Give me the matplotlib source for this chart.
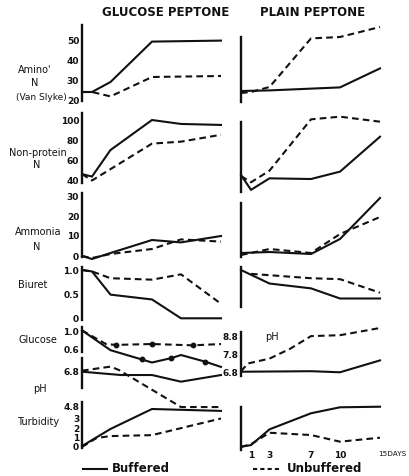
import numpy as np
import matplotlib
matplotlib.use("Agg")
import matplotlib.pyplot as plt
from matplotlib.lines import Line2D

# ---------------- data ----------------
TICK_DAYS = [1, 3, 7, 10, 15]
TICK_LABELS = ["1", "3", "7", "10", "15DAYS"]

# Glucose peptone
glu_amino_buf_d = [0, 1, 3, 7, 15]
glu_amino_buf = [24.5, 24.5, 29.5, 49.7, 50.2]
glu_amino_unb_d = [0, 1, 3, 7, 15]
glu_amino_unb = [24.5, 24.5, 22.3, 32.0, 32.5]

glu_npn_buf_d = [0, 1, 3, 7, 10, 15]
glu_npn_buf = [46, 43.5, 70.5, 101, 97, 96]
glu_npn_unb_d = [0, 1, 7, 10, 15]
glu_npn_unb = [46, 39.5, 77, 79, 86]

glu_nh3_buf_d = [0, 1, 3, 7, 10, 15]
glu_nh3_buf = [0, -1.5, 1.5, 8.0, 6.8, 10.0]
glu_nh3_unb_d = [0, 1, 3, 7, 10, 15]
glu_nh3_unb = [0, -1.0, 1.0, 3.5, 8.3, 7.2]

glu_biuret_buf_d = [0, 1, 3, 7, 10, 15]
glu_biuret_buf = [1.0, 0.97, 0.49, 0.39, 0.0, 0.0]
glu_biuret_unb_d = [0, 1, 3, 7, 10, 15]
glu_biuret_unb = [1.0, 0.97, 0.83, 0.80, 0.91, 0.30]

glu_glucose_buf_d = [0, 3, 6, 7, 9, 10, 13, 15]
glu_glucose_buf = [1.03, 0.58, 0.37, 0.30, 0.40, 0.47, 0.32, 0.20]
glu_glucose_buf_dots = [2, 4, 6]
glu_glucose_unb_d = [0, 2.5, 3.5, 7, 11.5, 15]
glu_glucose_unb = [1.03, 0.72, 0.70, 0.72, 0.69, 0.72]
glu_glucose_unb_dots = [2, 3, 4]

glu_ph_buf_d = [0, 4, 7, 10, 15]
glu_ph_buf = [6.80, 6.61, 6.61, 6.23, 6.61]
glu_ph_unb_d = [0, 3, 3.8, 10, 15]
glu_ph_unb = [6.86, 7.09, 6.90, 4.78, 4.78]

glu_turb_buf_d = [0, 3, 7, 15]
glu_turb_buf = [0.1, 1.9, 4.0, 3.8]
glu_turb_unb_d = [0, 1.5, 3, 7, 15]
glu_turb_unb = [0.0, 0.95, 1.15, 1.25, 3.0]

# Plain peptone
pl_amino_buf_d = [0, 3, 10, 15]
pl_amino_buf = [25.0, 25.3, 26.8, 36.3]
pl_amino_unb_d = [0, 1, 3, 7, 10, 15]
pl_amino_unb = [24.0, 24.5, 27.0, 51.3, 52.0, 57.0]

pl_npn_buf_d = [0, 1, 3, 7, 10, 15]
pl_npn_buf = [45, 30, 41.7, 41, 48.5, 84]
pl_npn_unb_d = [0, 1, 3, 7, 10, 15]
pl_npn_unb = [44, 37.7, 49.5, 101.7, 104.4, 99.3]

pl_nh3_buf_d = [0, 3, 7, 10, 15]
pl_nh3_buf = [1.5, 2.0, 1.0, 8.5, 29.0]
pl_nh3_unb_d = [0, 1, 3, 7, 10, 15]
pl_nh3_unb = [0.5, 1.5, 3.5, 1.5, 11.0, 19.5]

pl_biuret_buf_d = [0, 3, 7, 10, 15]
pl_biuret_buf = [1.0, 0.72, 0.62, 0.41, 0.41]
pl_biuret_unb_d = [1, 7, 10, 15]
pl_biuret_unb = [0.92, 0.83, 0.81, 0.53]

pl_ph_buf_d = [0, 7, 10, 15]
pl_ph_buf = [6.87, 6.90, 6.84, 7.50]
pl_ph_unb_d = [0, 0.7, 3, 5, 7, 10, 15]
pl_ph_unb = [6.90, 7.33, 7.60, 8.15, 8.85, 8.90, 9.30]

pl_turb_buf_d = [0, 1, 3, 7, 10, 15]
pl_turb_buf = [0.03, 0.2, 1.86, 3.55, 4.18, 4.24]
pl_turb_unb_d = [0, 1, 3, 7, 10, 15]
pl_turb_unb = [0.0, 0.3, 1.5, 1.26, 0.56, 0.98]

# ---------------- layout helpers ----------------
W, H = 410, 476
INK = "#111111"
plt.rcParams["font.family"] = ["DejaVu Sans"]

fig = plt.figure(figsize=(W / 100, H / 100), dpi=100)

# hand-ruled day axis: pixel offset from the spine for each day
KNOT_DAYS = np.array([-1, 0, 1, 3, 7, 10, 15, 20])
KNOT_PIX = np.array([-10, 0, 10, 28.5, 70, 99, 139, 179])


def fwd(d):
    return np.interp(d, KNOT_DAYS, KNOT_PIX)


def inv(p):
    return np.interp(p, KNOT_PIX, KNOT_DAYS)


def panel(x0, top, bot, cal, spine=None, ticks=None, labels=None):
    ax = fig.add_axes([x0 / W, 1 - bot / H, 139 / W, (bot - top) / H])
    ax.set_xscale("function", functions=(fwd, inv))
    ax.set_xlim(0, 15)
    (va, pa), (vb, pb) = cal
    k = (vb - va) / (pb - pa)
    ax.set_ylim(va + (bot - pa) * k, va + (top - pa) * k)
    for s in ("top", "right", "bottom"):
        ax.spines[s].set_visible(False)
    ax.spines["left"].set_linewidth(1.7)
    ax.spines["left"].set_color(INK)
    if spine is not None:
        ax.spines["left"].set_bounds(va + (spine[1] - pa) * k, va + (spine[0] - pa) * k)
    ax.patch.set_visible(False)
    ax.set_xticks([])
    ax.tick_params(length=0, pad=2, labelsize=6.5, labelcolor=INK)
    if ticks is None:
        ax.set_yticks([])
    else:
        ax.set_yticks(ticks)
        ax.set_yticklabels(labels if labels is not None else [str(t) for t in ticks],
                           fontweight="bold")
    return ax


def draw(ax, d, v, dashed=False, dots=None):
    kw = dict(color=INK, lw=1.5, clip_on=False, solid_joinstyle="miter")
    if dashed:
        kw["linestyle"] = (0, (3.2, 2.0))
    ax.plot(d, v, **kw)
    if dots:
        ax.plot([d[i] for i in dots], [v[i] for i in dots], "o", ms=3.2,
                color=INK, clip_on=False)


XL, XR = 82, 241

# Amino N
a = panel(XL, 25, 101, ((50, 41), (20, 101)), ticks=[50, 40, 30, 20])
draw(a, glu_amino_buf_d, glu_amino_buf)
draw(a, glu_amino_unb_d, glu_amino_unb, dashed=True)
a = panel(XR, 37, 102, ((50, 41), (20, 101)))
draw(a, pl_amino_buf_d, pl_amino_buf)
draw(a, pl_amino_unb_d, pl_amino_unb, dashed=True)

# Non-protein N
a = panel(XL, 113, 183, ((100, 121), (40, 180)), ticks=[100, 80, 60, 40])
draw(a, glu_npn_buf_d, glu_npn_buf)
draw(a, glu_npn_unb_d, glu_npn_unb, dashed=True)
a = panel(XR, 122, 192, ((100, 121), (40, 180)))
draw(a, pl_npn_buf_d, pl_npn_buf)
draw(a, pl_npn_unb_d, pl_npn_unb, dashed=True)

# Ammonia N
a = panel(XL, 193, 257, ((0, 256), (30, 196)), ticks=[30, 20, 10, 0])
draw(a, glu_nh3_buf_d, glu_nh3_buf)
draw(a, glu_nh3_unb_d, glu_nh3_unb, dashed=True)
a = panel(XR, 203, 257, ((0, 256), (30, 196)))
draw(a, pl_nh3_buf_d, pl_nh3_buf)
draw(a, pl_nh3_unb_d, pl_nh3_unb, dashed=True)

# Biuret
a = panel(XL, 267, 320, ((1.0, 270), (0.0, 318.3)), ticks=[1.0, 0.5, 0.0],
          labels=["1.0", "0.5", "0"])
draw(a, glu_biuret_buf_d, glu_biuret_buf)
draw(a, glu_biuret_unb_d, glu_biuret_unb, dashed=True)
a = panel(XR, 267, 307, ((1.0, 270), (0.0, 318.3)))
draw(a, pl_biuret_buf_d, pl_biuret_buf)
draw(a, pl_biuret_unb_d, pl_biuret_unb, dashed=True)

# Glucose (glucose peptone only)
a = panel(XL, 327, 352, ((1.0, 331.7), (0.6, 349.3)), ticks=[1.0, 0.6],
          labels=["1.0", "0.6"])
draw(a, glu_glucose_buf_d, glu_glucose_buf, dots=glu_glucose_buf_dots)
draw(a, glu_glucose_unb_d, glu_glucose_unb, dashed=True, dots=glu_glucose_unb_dots)

# pH
a = panel(XL, 358, 410, ((6.8, 371.7), (4.8, 406.7)), spine=(358, 388),
          ticks=[6.8, 4.8], labels=["6.8", "4.8"])
draw(a, glu_ph_buf_d, glu_ph_buf)
draw(a, glu_ph_unb_d, glu_ph_unb, dashed=True)
a = panel(XR, 332, 376, ((6.8, 373), (8.8, 337)), ticks=[8.8, 7.8, 6.8],
          labels=["8.8", "7.8", "6.8"])
draw(a, pl_ph_buf_d, pl_ph_buf)
draw(a, pl_ph_unb_d, pl_ph_unb, dashed=True)

# Turbidity
a = panel(XL, 402, 448, ((0, 447), (1, 437.5)), ticks=[3, 2, 1, 0])
draw(a, glu_turb_buf_d, glu_turb_buf)
draw(a, glu_turb_unb_d, glu_turb_unb, dashed=True)
a = panel(XR, 407, 450, ((0, 447), (1, 437.5)))
draw(a, pl_turb_buf_d, pl_turb_buf)
draw(a, pl_turb_unb_d, pl_turb_unb, dashed=True)
a.set_xticks(TICK_DAYS[:-1])
a.set_xticklabels(TICK_LABELS[:-1], fontweight="bold", fontsize=6.5)
a.tick_params(axis="x", length=0, pad=1)
# last day label runs to the right of its position
a.annotate(TICK_LABELS[-1], xy=(TICK_DAYS[-1], 0), xycoords=("data", "axes fraction"),
           xytext=(-1.5, -1), textcoords="offset points", ha="left", va="top",
           fontsize=5.2, color=INK, annotation_clip=False)


# ---------------- text ----------------
def ftext(x, y, s, **kw):
    kw.setdefault("fontsize", 7)
    kw.setdefault("color", INK)
    kw.setdefault("ha", "center")
    kw.setdefault("va", "center")
    fig.text(x / W, 1 - y / H, s, **kw)


ftext(166, 12, "GLUCOSE PEPTONE", fontsize=8.5, fontweight="bold")
ftext(313, 12, "PLAIN PEPTONE", fontsize=8.5, fontweight="bold")

ftext(35, 70, "Amino'")
ftext(35, 83, "N")
ftext(67, 97, "(Van Slyke)", ha="right", fontsize=6.5)
ftext(38, 153, "Non-protein")
ftext(37, 165, "N")
ftext(38, 232, "Ammonia")
ftext(37, 247, "N")
ftext(33, 285, "Biuret")
ftext(38, 340, "Glucose")
ftext(40, 389, "pH")
ftext(38, 422, "Turbidity")
ftext(272, 337, "pH")

# key
fig.add_artist(Line2D([83 / W, 107 / W], [1 - 469 / H, 1 - 469 / H], color=INK, lw=1.5))
ftext(112, 469, "Buffered", ha="left", fontsize=8.5, fontweight="bold")
fig.add_artist(Line2D([253 / W, 281 / W], [1 - 469 / H, 1 - 469 / H], color=INK, lw=1.5,
                      linestyle=(0, (2.0, 1.5))))
ftext(287, 469, "Unbuffered", ha="left", fontsize=8.5, fontweight="bold")

fig.savefig("out.png", dpi=100, facecolor="white")
